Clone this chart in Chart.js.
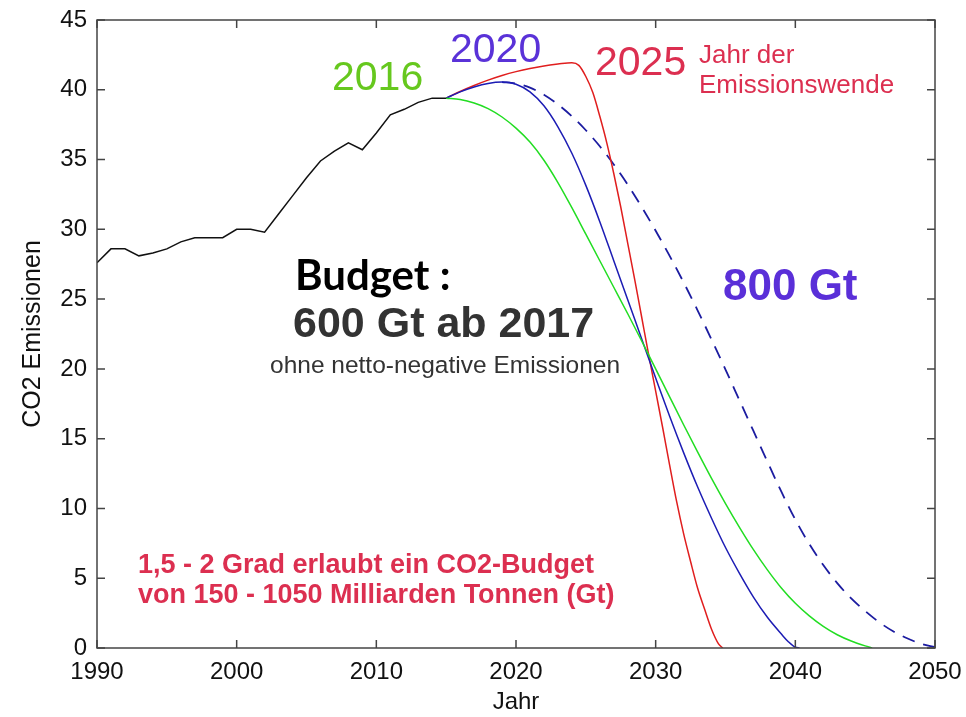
<!DOCTYPE html>
<html>
<head>
<meta charset="utf-8">
<script src="https://cdn.jsdelivr.net/npm/chart.js@4.4.1/dist/chart.umd.min.js"></script>
<style>
  html, body { margin: 0; padding: 0; background: #ffffff; }
  #wrap { width: 966px; height: 717px; position: relative; }
</style>
</head>
<body>
<div id="wrap"><canvas id="c" width="966" height="717"></canvas></div>
<script>
// ---- Data ----
const xTickLabels = [1990, 2000, 2010, 2020, 2030, 2040, 2050];
const yTickLabels = [0, 5, 10, 15, 20, 25, 30, 35, 40, 45];

const histYears  = [1990,1991,1992,1993,1994,1995,1996,1997,1998,1999,2000,2001,2002,2003,2004,2005,2006,2007,2008,2009,2010,2011,2012,2013,2014,2015];
const histValues = [27.6,28.6,28.6,28.1,28.3,28.6,29.1,29.4,29.4,29.4,30.0,30.0,29.8,31.1,32.4,33.7,34.9,35.6,36.2,35.7,36.9,38.2,38.6,39.1,39.4,39.4];

const green2016Years  = [2015,2016,2017,2018,2019,2020,2021,2022,2023,2024,2025,2026,2027,2028,2029,2030,2031,2032,2033,2034,2035,2036,2037,2038,2039,2040,2041,2042,2043,2044,2045,2045.5];
const green2016Values = [39.4,39.3,39.05,38.65,38.05,37.25,36.25,34.95,33.35,31.55,29.65,27.75,25.85,23.95,22.0,20.0,18.0,16.0,14.05,12.15,10.35,8.65,7.05,5.6,4.3,3.2,2.3,1.55,0.95,0.5,0.15,0];

const blue2020Years  = [2015,2016,2017,2018,2019,2020,2021,2022,2023,2024,2025,2026,2027,2028,2029,2030,2031,2032,2033,2034,2035,2036,2037,2038,2039,2039.5,2040,2040.3];
const blue2020Values = [39.4,39.85,40.2,40.45,40.55,40.4,39.85,38.85,37.35,35.45,33.15,30.55,27.75,24.95,22.15,19.35,16.6,14.0,11.55,9.3,7.2,5.35,3.65,2.2,1.0,0.45,0.05,0];

const red2025Years  = [2015,2016,2017,2018,2019,2020,2021,2022,2023,2024,2024.5,2025,2025.5,2026,2026.5,2027,2027.5,2028,2028.5,2029,2029.5,2030,2030.5,2031,2031.5,2032,2032.5,2033,2033.5,2034,2034.5,2034.8];
const red2025Values = [39.4,39.88,40.31,40.69,41.02,41.3,41.53,41.71,41.84,41.94,41.75,40.95,39.8,38.1,36.2,34.0,31.6,29.0,26.4,23.7,21.0,18.4,15.8,13.1,10.5,8.2,6.2,4.3,2.8,1.35,0.3,0];

const dash800Years  = [2019,2020,2021,2022,2023,2024,2025,2026,2027,2028,2029,2030,2031,2032,2033,2034,2035,2036,2037,2038,2039,2040,2041,2042,2043,2044,2045,2046,2047,2048,2049,2050];
const dash800Values = [40.55,40.45,40.15,39.65,38.95,38.1,37.1,35.95,34.65,33.2,31.6,29.9,28.1,26.2,24.2,22.1,19.95,17.75,15.55,13.35,11.2,9.2,7.45,5.95,4.65,3.55,2.65,1.85,1.2,0.7,0.3,0.05];

function pts(xs, ys) { return xs.map((x, i) => ({ x: x, y: ys[i] })); }

const SANS = "'Liberation Sans', Arial, Helvetica, sans-serif";

// ---- Annotation texts ----
const annotations = [
  { text: '2016', x: 332, y: 90, font: '41px ' + SANS, color: '#66c81e' },
  { text: '2020', x: 450, y: 62, font: '41px ' + SANS, color: '#5a32d8' },
  { text: '2025', x: 595, y: 75, font: '41px ' + SANS, color: '#dc2f50' },
  { text: 'Jahr der', x: 699, y: 63, font: '26px ' + SANS, color: '#dc2f50' },
  { text: 'Emissionswende', x: 699, y: 93, font: '26px ' + SANS, color: '#dc2f50' },
  { text: 'Budget :', x: 295, y: 290, font: 'bold 42px Lato, "Open Sans", sans-serif', color: '#000000' },
  { text: '600 Gt ab 2017', x: 293, y: 337, font: 'bold 43px ' + SANS, color: '#333333' },
  { text: 'ohne netto-negative Emissionen', x: 270, y: 373, font: '24.5px ' + SANS, color: '#333333' },
  { text: '800 Gt', x: 723, y: 300, font: 'bold 44px ' + SANS, color: '#5a2fd8' },
  { text: '1,5 - 2 Grad erlaubt ein CO2-Budget', x: 138, y: 573, font: 'bold 27px ' + SANS, color: '#dc2f50' },
  { text: 'von 150 - 1050 Milliarden Tonnen (Gt)', x: 138, y: 603, font: 'bold 27px ' + SANS, color: '#dc2f50' }
];

const framePlugin = {
  id: 'frame',
  afterDatasetsDraw(chart) {
    const { ctx, chartArea: a, scales } = chart;
    ctx.save();
    ctx.strokeStyle = '#444444';
    ctx.lineWidth = 1.5;
    ctx.strokeRect(a.left, a.top, a.right - a.left, a.bottom - a.top);
    const L = 8;
    ctx.beginPath();
    xTickLabels.forEach(v => {
      const px = scales.x.getPixelForValue(v);
      ctx.moveTo(px, a.bottom); ctx.lineTo(px, a.bottom - L);
      ctx.moveTo(px, a.top); ctx.lineTo(px, a.top + L);
    });
    yTickLabels.forEach(v => {
      const py = scales.y.getPixelForValue(v);
      ctx.moveTo(a.left, py); ctx.lineTo(a.left + L, py);
      ctx.moveTo(a.right, py); ctx.lineTo(a.right - L, py);
    });
    ctx.stroke();
    ctx.restore();
  },
  afterDraw(chart) {
    const ctx = chart.ctx;
    ctx.save();
    ctx.textAlign = 'left';
    ctx.textBaseline = 'alphabetic';
    annotations.forEach(t => {
      ctx.font = t.font;
      ctx.fillStyle = t.color;
      ctx.fillText(t.text, t.x, t.y);
    });
    ctx.restore();
  }
};

function noPad(scale) {
  scale.paddingTop = 0; scale.paddingBottom = 0; scale.paddingLeft = 0; scale.paddingRight = 0;
}

new Chart(document.getElementById('c'), {
  type: 'line',
  data: {
    datasets: [
      { label: 'Historisch', data: pts(histYears, histValues), borderColor: '#111111', borderWidth: 1.5, tension: 0, pointRadius: 0 },
      { label: '2016', data: pts(green2016Years, green2016Values), borderColor: '#22dd22', borderWidth: 1.5, cubicInterpolationMode: 'monotone', pointRadius: 0 },
      { label: '2020', data: pts(blue2020Years, blue2020Values), borderColor: '#1c1cb4', borderWidth: 1.5, cubicInterpolationMode: 'monotone', pointRadius: 0 },
      { label: '2025', data: pts(red2025Years, red2025Values), borderColor: '#e01e1e', borderWidth: 1.5, cubicInterpolationMode: 'monotone', pointRadius: 0 },
      { label: '800 Gt', data: pts(dash800Years, dash800Values), borderColor: '#1c1ca0', borderWidth: 1.8, borderDash: [13, 9], cubicInterpolationMode: 'monotone', pointRadius: 0 }
    ]
  },
  options: {
    responsive: false,
    animation: false,
    layout: { padding: { left: 0, top: 20, right: 31, bottom: 0 } },
    plugins: { legend: { display: false }, tooltip: { enabled: false } },
    scales: {
      x: {
        type: 'linear',
        min: 1990, max: 2050,
        grid: { display: false, drawTicks: false },
        border: { display: false },
        afterBuildTicks(scale) { scale.ticks = xTickLabels.map(v => ({ value: v })); },
        afterFit(scale) { scale.height = 69; noPad(scale); },
        ticks: { color: '#111111', font: { size: 24, family: SANS }, padding: 10, maxRotation: 0, autoSkip: false,
                 callback: v => String(v) },
        title: { display: true, text: 'Jahr', color: '#111111', font: { size: 24, family: SANS, lineHeight: 1.2 }, padding: { top: 0, bottom: 0 } }
      },
      y: {
        type: 'linear',
        min: 0, max: 45,
        grid: { display: false, drawTicks: false },
        border: { display: false },
        afterBuildTicks(scale) { scale.ticks = yTickLabels.map(v => ({ value: v })); },
        afterFit(scale) { scale.width = 97; noPad(scale); },
        ticks: { color: '#111111', font: { size: 24, family: SANS }, padding: 10, autoSkip: false,
                 callback: v => String(v) },
        title: { display: true, text: 'CO2 Emissionen', color: '#111111', font: { size: 25, family: SANS, lineHeight: 1.2 }, padding: { top: 18, bottom: 0 } }
      }
    }
  },
  plugins: [framePlugin]
});
</script>
</body>
</html>
